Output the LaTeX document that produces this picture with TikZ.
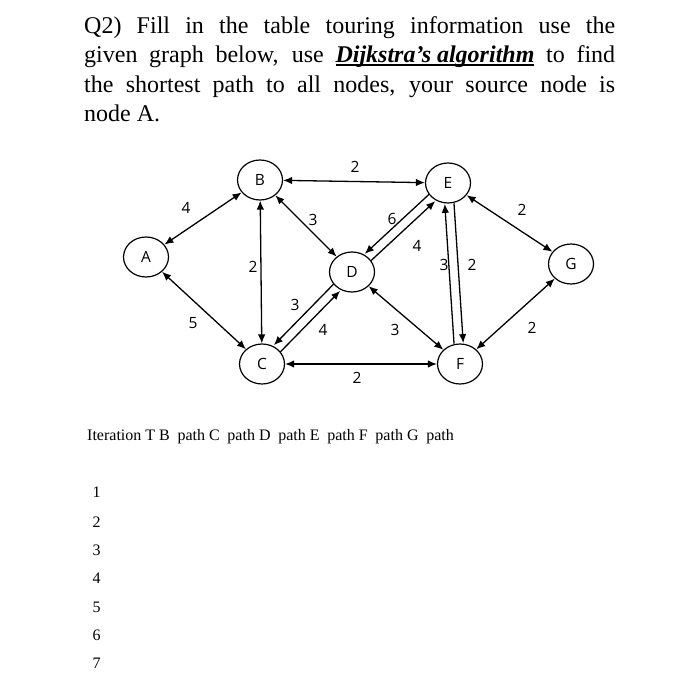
\documentclass[tikz,border=0pt]{standalone}
\usepackage{fontspec}
\setmainfont{Liberation Serif}
\newfontfamily\gsans{Open Sans}
\usetikzlibrary{shapes.geometric,arrows.meta}
\newcommand\thickul[1]{\setbox0\hbox{#1}\rlap{\rule[-3.5pt]{\wd0}{1.8pt}}\box0\relax}
\begin{document}
\begin{tikzpicture}[x=1pt,y=-1pt,
  vtx/.style={ellipse,draw,line width=1.2pt,minimum width=45pt,minimum height=40pt,inner sep=0pt,font=\gsans\fontsize{15.5}{17}\selectfont},
  arr/.style={line width=1.3pt,-{Latex[length=9pt,width=7.5pt]}},
  darr/.style={line width=1.3pt,{Latex[length=9pt,width=7.5pt]}-{Latex[length=9pt,width=7.5pt]}},
  wt/.style={font=\gsans\fontsize{15.5}{17}\selectfont,inner sep=0pt},
  txt/.style={font=\fontsize{16}{19}\selectfont,inner sep=0pt,anchor=base west}]
\useasboundingbox[fill=white] (0,0) rectangle (700,700);

\node[anchor=north west,inner sep=0pt,text width=531pt,align=justify,font=\fontsize{24}{29.5}\selectfont] (title) at (84,16)
 {Q2) Fill in the table touring information use the\linebreak given graph below, use \thickul{\textbf{\textit{Dijkstra’s algorithm}}} to find\linebreak the shortest path to all nodes, your source node is\linebreak node A.};

% vertices
\node[vtx] (A) at (146,257) {A};
\node[vtx] (B) at (260,180) {B};
\node[vtx] (C) at (262,364) {C};
\node[vtx] (D) at (352,272) {D};
\node[vtx] (E) at (448,183) {E};
\node[vtx] (F) at (460,364) {F};
\node[vtx] (G) at (571,264) {G};

% two-way edges
\draw[darr] (A) -- (B);
\draw[darr] (A) -- (C);
\draw[darr] (B) -- (C);
\draw[darr] (B) -- (D);
\draw[darr] (B) -- (E);
\draw[darr] (C) -- (F);
\draw[darr] (D) -- (F);
\draw[darr] (E) -- (G);
\draw[darr] (F) -- (G);

% parallel one-way edges
\draw[arr,transform canvas={shift={(-3.3,-3.3)}}] (D) -- (C);
\draw[arr,transform canvas={shift={(3.3,3.3)}}] (C) -- (D);
\draw[arr,transform canvas={shift={(-3.2,-3.3)}}] (E) -- (D);
\draw[arr,transform canvas={shift={(3.2,3.3)}}] (D) -- (E);
\draw[arr,transform canvas={shift={(-4.6,0.3)}}] (F) -- (E);
\draw[arr,transform canvas={shift={(4.6,-0.3)}}] (E) -- (F);

% weights
\node[wt] (wAB) at (186,208) {4};
\node[wt] (wAC) at (193,323) {5};
\node[wt] (wBC) at (253,267) {2};
\node[wt] (wBD) at (313,220) {3};
\node[wt] (wBE) at (355,167) {2};
\node[wt] (wDC) at (295,305) {3};
\node[wt] (wCD) at (323,330) {4};
\node[wt] (wED) at (392,219) {6};
\node[wt] (wDE) at (417,246) {4};
\node[wt] (wFE) at (444,265) {3};
\node[wt] (wEF) at (472,265) {2};
\node[wt] (wDF) at (395,330) {3};
\node[wt] (wEG) at (522,210) {2};
\node[wt] (wFG) at (532,328) {2};
\node[wt] (wCF) at (357,378) {2};

% table header and rows
\node[txt] (hdr) at (87,440) {Iteration T B\hspace{7.7pt}path C\hspace{7.7pt}path D\hspace{7.7pt}path E\hspace{7.7pt}path F\hspace{7.7pt}path G\hspace{7.7pt}path};
\node[txt] (r1) at (92.5,497.5) {1};
\node[txt] (r2) at (92.5,527) {2};
\node[txt] (r3) at (92.5,555.5) {3};
\node[txt] (r4) at (92.5,583.5) {4};
\node[txt] (r5) at (92.5,612) {5};
\node[txt] (r6) at (92.5,640.5) {6};
\node[txt] (r7) at (92.5,668.5) {7};
\end{tikzpicture}
\end{document}
